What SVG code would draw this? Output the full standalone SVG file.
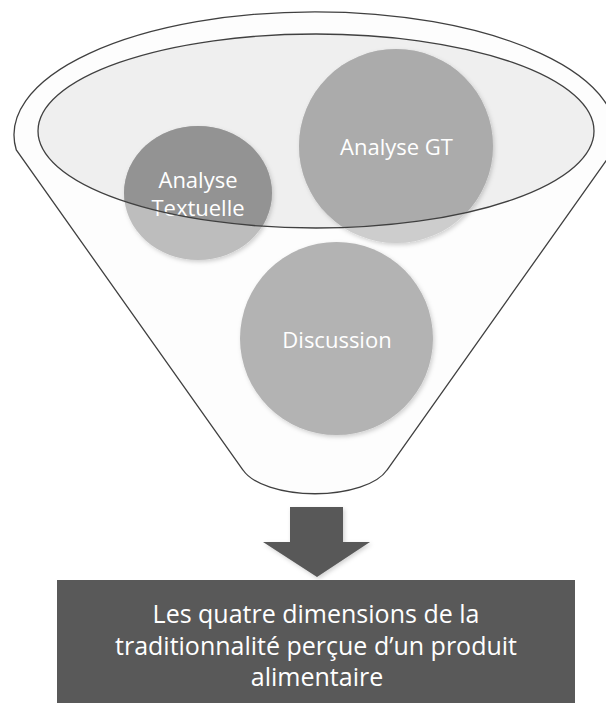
<svg xmlns="http://www.w3.org/2000/svg" width="606" height="704" viewBox="0 0 606 704">
  <defs>
    <style>
      .outline { stroke: #404040; stroke-width: 1.3; }
      .lbl { font-family: "Open Sans", "Liberation Sans", sans-serif; fill: #ffffff; text-anchor: middle; }
      .small { font-size: 22px; }
      .big { font-size: 25px; }
    </style>
    <clipPath id="innerClip">
      <ellipse cx="316" cy="131" rx="278" ry="97"/>
    </clipPath>
    <filter id="soft" x="-20%" y="-20%" width="140%" height="140%">
      <feDropShadow dx="1.5" dy="2" stdDeviation="2" flood-color="#000000" flood-opacity="0.18"/>
    </filter>
  </defs>

  <rect width="606" height="704" fill="#ffffff"/>

  <g id="funnel">
    <path class="outline" fill="#fdfdfd" d="M 16.3 150 A 301 123 0 1 1 613.7 150 L 387 470 A 75 33 0 0 1 243 470 Z"/>
    <ellipse cx="316" cy="131" rx="278" ry="97" fill="#efefef"/>
  </g>

  <g id="node-textuelle">
    <ellipse cx="198" cy="193" rx="74" ry="67" fill="#bdbdbd" filter="url(#soft)"/>
    <ellipse cx="198" cy="193" rx="74" ry="67" fill="#939393" clip-path="url(#innerClip)"/>
    <text class="lbl small" x="198" y="188">Analyse</text>
    <text class="lbl small" x="198" y="216">Textuelle</text>
  </g>

  <g id="node-gt">
    <circle cx="396" cy="146" r="97" fill="#cdcdcd" filter="url(#soft)"/>
    <circle cx="396" cy="146" r="97" fill="#ababab" clip-path="url(#innerClip)"/>
    <text class="lbl small" x="396.5" y="155">Analyse GT</text>
  </g>

  <g id="node-discussion">
    <circle cx="336.5" cy="338.5" r="96.5" fill="#b3b3b3" filter="url(#soft)"/>
    <text class="lbl small" x="337" y="348">Discussion</text>
  </g>

  <g id="funnel-rim">
    <ellipse class="outline" cx="316" cy="131" rx="278" ry="97" fill="none"/>
  </g>

  <g id="connectors">
    <path d="M 290 507 L 343 507 L 343 542 L 370 542 L 317 577 L 263 542 L 290 542 Z" fill="#595959" filter="url(#soft)"/>
  </g>

  <g id="node-result">
    <rect x="57" y="580" width="518" height="123" fill="#595959"/>
    <text class="lbl big" x="316" y="623">Les quatre dimensions de la</text>
    <text class="lbl big" x="316" y="655">traditionnalité perçue d’un produit</text>
    <text class="lbl big" x="317" y="686">alimentaire</text>
  </g>
</svg>
